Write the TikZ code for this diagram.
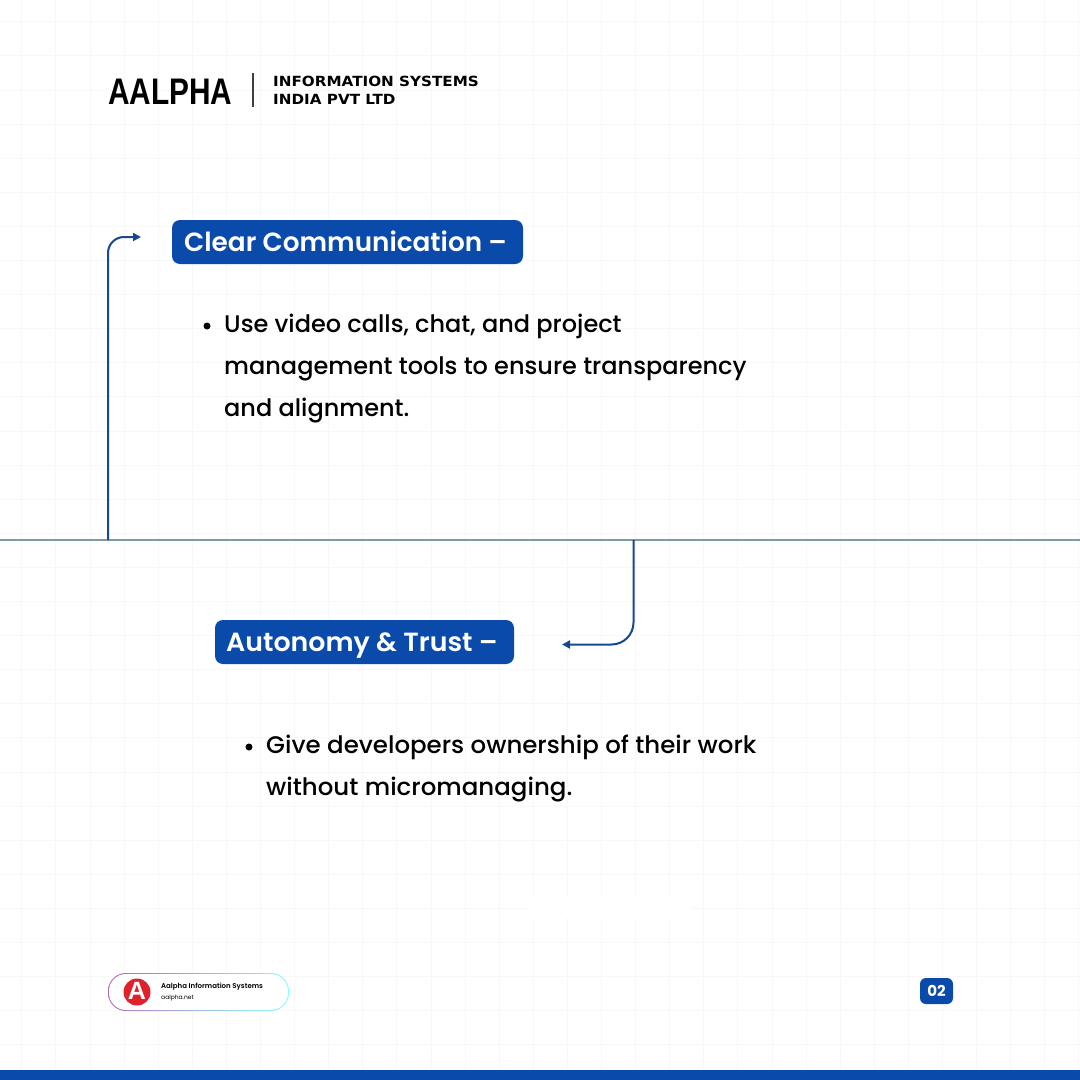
\documentclass[tikz,border=0pt]{standalone}
\usepackage{fontspec}
\usepackage{tikz}
\usetikzlibrary{positioning, arrows.meta}
\setmainfont{Poppins}
\newfontfamily\mediumfont{Poppins Medium}
\newfontfamily\semifont{Poppins SemiBold}
\newfontfamily\brandfont{Liberation Sans}
\newfontfamily\wordfont{DejaVu Sans}
\definecolor{aalphablue}{HTML}{0A4AAB}
\definecolor{arrowblue}{HTML}{17488F}
\definecolor{dividecol}{HTML}{7E9AA3}
\definecolor{gridcol}{HTML}{F8F8F8}
\definecolor{logored}{HTML}{E0202A}
\tikzset{
	titlebox/.style={fill=aalphablue, rounded corners=8pt, draw=none},
	titletext/.style={anchor=base west, inner sep=0pt, text=white, font=\semifont\fontsize{26.3}{30}\selectfont},
	bodytext/.style={anchor=base west, inner sep=0pt, text=black, font=\mediumfont\fontsize{24}{30}\selectfont},
	dotmark/.style={circle, fill=black, inner sep=0pt, minimum size=7pt},
	flowline/.style={draw=arrowblue, line width=2pt, -{Stealth[length=8pt,width=8pt,inset=0pt]}},
}
\begin{document}
\begin{tikzpicture}[x=1pt, y=-1pt]
		\useasboundingbox (0, 0) rectangle (1080, 1080);
		\fill[white] (0, 0) rectangle (1080, 1080);
		
		% Faint grid
		\foreach \gx in {0,...,31}
			\draw[gridcol, line width=0.8pt] ({21.7+34.1*\gx}, 0) -- ({21.7+34.1*\gx}, 1070);
		\foreach \gy in {0,...,30}
			\draw[gridcol, line width=0.8pt] (0, {21.7+34.1*\gy}) -- (1080, {21.7+34.1*\gy});
		\fill[white, rounded corners=8pt] (528, 896) rectangle (692, 918);
		
		% Header
		\node[anchor=base west, inner sep=0pt, font=\brandfont\bfseries\fontsize{37}{37}\selectfont, xscale=0.806] (brand) at (108, 104) {AALPHA};
		\draw[black!75, line width=1.4pt] (253, 73) -- (253, 107);
		\node[anchor=base west, inner sep=0pt, font=\wordfont\bfseries\fontsize{14}{14}\selectfont, xscale=1.085] (infoline) at (273, 86) {INFORMATION SYSTEMS};
		\node[anchor=base west, inner sep=0pt, font=\wordfont\bfseries\fontsize{14}{14}\selectfont, xscale=1.085] (indialine) at (273, 104) {INDIA PVT LTD};
		
		% First section
		\fill[titlebox] (172, 220) rectangle (523, 264);
		\node[titletext] (clear) at (184, 251) {Clear Communication –};
		\node[dotmark] (dotone) at (207, 326) {};
		\node[bodytext] (usea) at (224, 332) {Use video calls, chat, and project};
		\node[bodytext] (useb) at (224, 374) {management tools to ensure transparency};
		\node[bodytext] (usec) at (224, 416) {and alignment.};
		
		% Second section
		\fill[titlebox] (215, 620) rectangle (514, 664);
		\node[titletext, xscale=1.02] (trust) at (226, 651) {Autonomy \& Trust –};
		\node[dotmark] (dottwo) at (249, 747) {};
		\node[bodytext, xscale=1.02] (givea) at (266, 753) {Give developers ownership of their work};
		\node[bodytext, xscale=1.02] (giveb) at (266, 795) {without micromanaging.};
		
		% Divider and arrows
		\coordinate (leftstart) at (108, 540);
		\coordinate (leftend) at (141, 237);
		\coordinate (rightstart) at (633.5, 540);
		\coordinate (rightend) at (562, 644.5);
		\draw[dividecol, line width=1.5pt] (0, 540) -- (1080, 540);
		\draw[flowline, rounded corners=16pt] (leftstart) |- (leftend);
		\draw[flowline, rounded corners=22pt] (rightstart) |- (rightend);
		
		% Footer badge
		\shade[left color=violet!60, right color=cyan!50, rounded corners=18pt] (108, 973) rectangle (289, 1011);
		\fill[white, rounded corners=17pt] (109, 974) rectangle (288, 1010);
		\node[circle, fill=logored, inner sep=0pt, minimum size=27pt] (logo) at (137, 992) {};
		\node[text=white, inner sep=0pt, font=\brandfont\bfseries\fontsize{25}{25}\selectfont] (logoa) at (137, 991) {A};
		\node[anchor=base west, inner sep=0pt, font=\semifont\fontsize{7}{8}\selectfont] (badgename) at (161, 988) {Aalpha Information Systems};
		\node[anchor=base west, inner sep=0pt, font=\fontsize{6}{8}\selectfont] (badgeurl) at (161, 999) {aalpha.net};
		
		% Page number and bottom bar
		\fill[aalphablue, rounded corners=6pt] (920, 978) rectangle (953, 1004);
		\node[text=white, inner sep=0pt, font=\bfseries\fontsize{15}{15}\selectfont] (pagenum) at (936.5, 990.5) {02};
		\fill[aalphablue] (0, 1070) rectangle (1080, 1080);
	\end{tikzpicture}
\end{document}
